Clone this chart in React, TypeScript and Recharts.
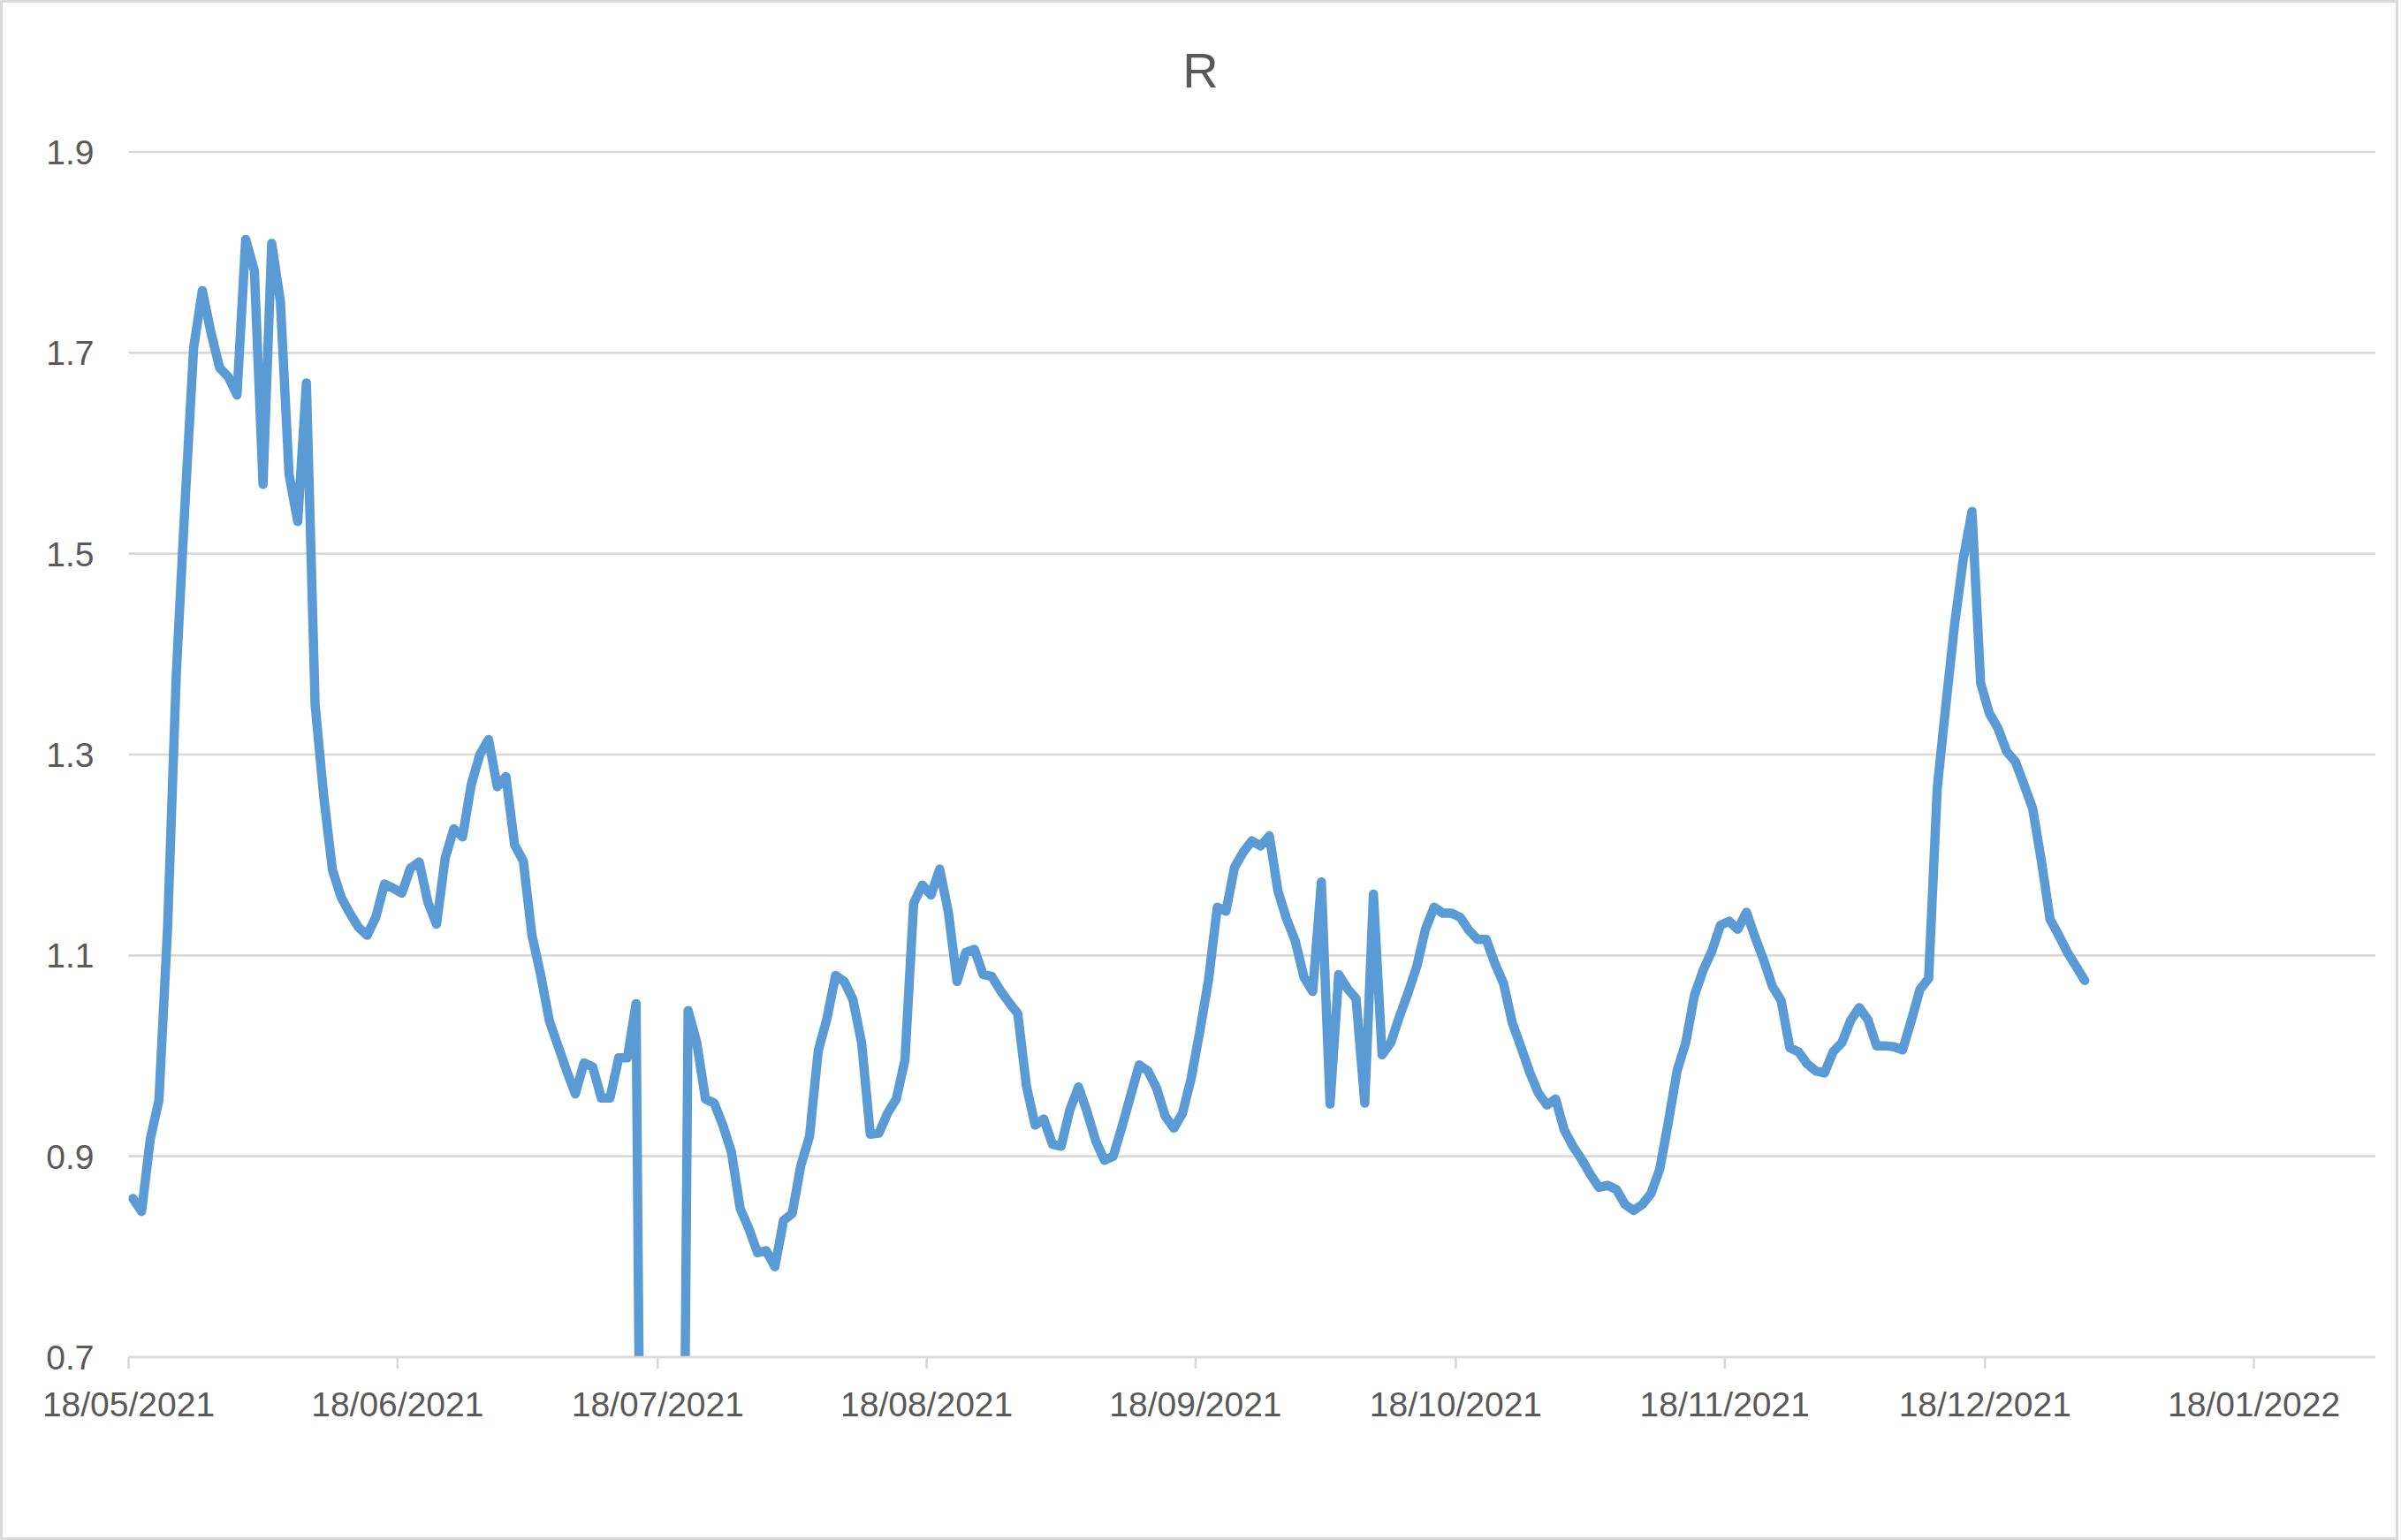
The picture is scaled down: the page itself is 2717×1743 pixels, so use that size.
import { CartesianGrid, Line, LineChart, XAxis, YAxis } from "recharts";

const START = "2021-05-18";

// daily R, one list per month (May starts on the 18th)
const may = [0.858, 0.845, 0.917, 0.956, 1.128, 1.38, 1.549, 1.705, 1.762, 1.72, 1.685, 1.676, 1.658, 1.813];
const june = [
  1.782, 1.569, 1.809, 1.751, 1.579, 1.532, 1.67, 1.35, 1.258, 1.185, 1.158, 1.142, 1.128, 1.12, 1.138,
  1.171, 1.167, 1.162, 1.187, 1.193, 1.153, 1.131, 1.197, 1.226, 1.218, 1.27, 1.3, 1.315, 1.268, 1.278,
];
const july = [
  1.21, 1.194, 1.12, 1.081, 1.035, 1.01, 0.985, 0.962, 0.993, 0.989, 0.958, 0.958, 0.998, 0.998, 1.052, 0,
  0, 0, 0, 0, 1.045, 1.013, 0.957, 0.953, 0.931, 0.904, 0.848, 0.828, 0.804, 0.806, 0.79,
];
const august = [
  0.836, 0.843, 0.891, 0.92, 1.005, 1.037, 1.08, 1.074, 1.056, 1.013, 0.922, 0.923, 0.943, 0.957, 0.996,
  1.152, 1.17, 1.16, 1.186, 1.143, 1.074, 1.103, 1.106, 1.081, 1.079, 1.065, 1.053, 1.042, 0.97, 0.931, 0.937,
];
const september = [
  0.912, 0.91, 0.946, 0.969, 0.944, 0.915, 0.896, 0.9, 0.929, 0.96, 0.991, 0.985, 0.968, 0.94, 0.928,
  0.943, 0.978, 1.025, 1.076, 1.148, 1.144, 1.188, 1.203, 1.214, 1.209, 1.219, 1.164, 1.136, 1.114, 1.078,
];
const october = [
  1.064, 1.173, 0.952, 1.081, 1.067, 1.057, 0.953, 1.161, 1.001, 1.013, 1.039, 1.063, 1.089, 1.126, 1.148,
  1.142, 1.142, 1.138, 1.125, 1.116, 1.116, 1.092, 1.072, 1.033, 1.009, 0.984, 0.963, 0.951, 0.957, 0.926, 0.91,
];
const november = [
  0.897, 0.882, 0.869, 0.871, 0.867, 0.852, 0.846, 0.852, 0.863, 0.887, 0.934, 0.985, 1.013, 1.06, 1.085,
  1.104, 1.13, 1.134, 1.126, 1.143, 1.118, 1.095, 1.069, 1.055, 1.008, 1.004, 0.992, 0.985, 0.983, 1.004,
];
const december = [
  1.013, 1.035, 1.048, 1.036, 1.01, 1.01, 1.009, 1.006, 1.035, 1.066, 1.077, 1.267, 1.35, 1.43, 1.495,
  1.542, 1.371, 1.341, 1.326, 1.303, 1.293, 1.27, 1.246, 1.194, 1.136, 1.12, 1.103, 1.089, 1.075,
];

const xTickLabels = [
  "18/05/2021", "18/06/2021", "18/07/2021", "18/08/2021", "18/09/2021",
  "18/10/2021", "18/11/2021", "18/12/2021", "18/01/2022",
];
const yTicks = [0.7, 0.9, 1.1, 1.3, 1.5, 1.7, 1.9];

const DAY = 86400000;
const start = Date.parse(START);
const dayOf = (label: string) => {
  const [d, m, y] = label.split("/").map(Number);
  return (Date.UTC(y, m - 1, d) - start) / DAY;
};
const xTicks = xTickLabels.map(dayOf);

// points sit in the middle of their day, like an Excel date axis
const rows = [...may, ...june, ...july, ...august, ...september, ...october, ...november, ...december].map(
  (r, i) => ({ x: i + 0.5, r }),
);

const grey = "#D9D9D9";
const text = "#595959";
const font = "'Liberation Sans', Arial, sans-serif";

export default function App() {
  return (
    <div
      style={{
        position: "absolute",
        left: 0,
        top: 0,
        width: 2717,
        height: 1743,
        background: "#fff",
        fontFamily: font,
      }}
    >
      <div
        style={{
          position: "absolute",
          left: 0,
          top: 0,
          width: 2714,
          height: 1743,
          boxSizing: "border-box",
          border: `3px solid ${grey}`,
        }}
      />
      <div
        style={{
          position: "absolute",
          top: 47,
          left: 0,
          width: 2717,
          textAlign: "center",
          fontSize: 56,
          color: text,
        }}
      >
        R
      </div>
      <LineChart
        width={2717}
        height={1743}
        data={rows}
        margin={{ top: 172, right: 29, bottom: 127, left: 0 }}
        style={{ position: "absolute", left: 0, top: 0 }}
      >
        <CartesianGrid vertical={false} stroke={grey} strokeWidth={2.7} />
        <XAxis
          type="number"
          dataKey="x"
          domain={[0, 259]}
          allowDataOverflow
          ticks={xTicks}
          interval={0}
          height={80}
          tickFormatter={(v: number) => xTickLabels[xTicks.indexOf(v)] ?? ""}
          axisLine={{ stroke: grey, strokeWidth: 2.7 }}
          tickLine={{ stroke: grey, strokeWidth: 2.7 }}
          tickSize={13}
          tickMargin={26}
          tick={{ fill: text, fontSize: 39, fontFamily: font }}
        />
        <YAxis
          type="number"
          domain={[0.7, 1.9]}
          allowDataOverflow
          ticks={yTicks}
          interval={0}
          width={145.5}
          axisLine={false}
          tickLine={false}
          tickSize={0}
          tickMargin={39}
          tickFormatter={(v: number) => v.toFixed(1)}
          tick={{ fill: text, fontSize: 39, fontFamily: font }}
        />
        <Line
          type="linear"
          dataKey="r"
          stroke="#5B9BD5"
          strokeWidth={10.5}
          strokeLinejoin="round"
          strokeLinecap="round"
          dot={false}
          isAnimationActive={false}
        />
      </LineChart>
    </div>
  );
}
